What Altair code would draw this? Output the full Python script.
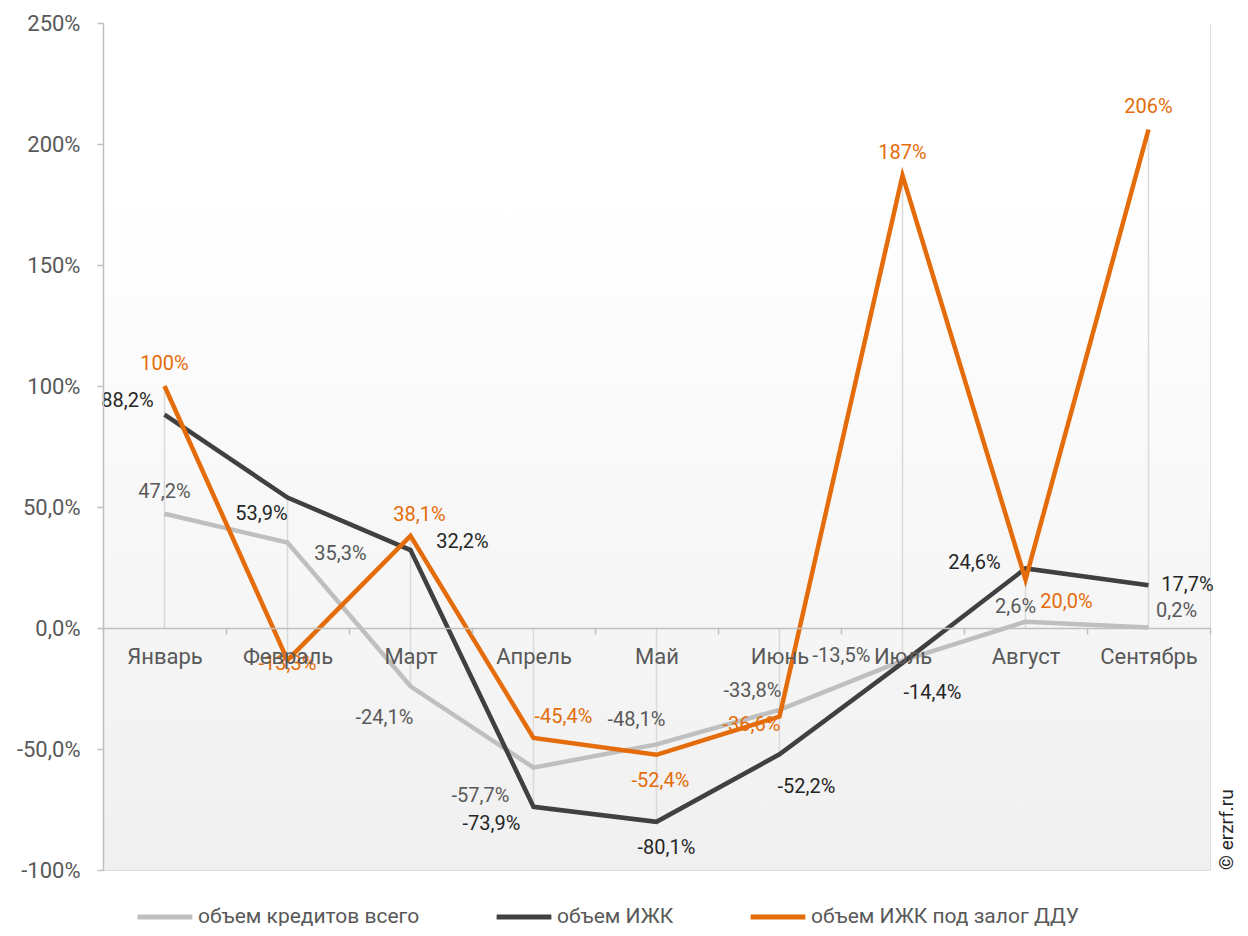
import altair as alt
import pandas as pd

# ---------------- data ----------------
months = ["Январь", "Февраль", "Март", "Апрель", "Май", "Июнь", "Июль", "Август", "Сентябрь"]
series_names = ["объем кредитов всего", "объем ИЖК", "объем ИЖК под залог ДДУ"]
total_vals = [47.2, 35.3, -24.1, -57.7, -48.1, -33.8, -13.5, 2.6, 0.2]
izhk_vals = [88.2, 53.9, 32.2, -73.9, -80.1, -52.2, -14.4, 24.6, 17.7]
ddu_vals = [100, -13.3, 38.1, -45.4, -52.4, -36.6, 187, 20.0, 206]
y_tick_values = [-100, -50, 0, 50, 100, 150, 200, 250]
y_domain = [-100, 250]

# ---------------- styles ----------------
series_colors = ["#bfbfbf", "#404040", "#e46c0a"]
label_colors = ["#595959", "#262626", "#e46c0a"]
# label offsets (pixels) relative to each point
total_dx = [0, 53, -26, -53, -20, -27, -61, -10, 28]
total_dy = [-22, 11, 32, 28, -24, -19, -5, -15, -17]
izhk_dx = [-37, -26, 52, -42, 10, 27, 30, -51, 39]
izhk_dy = [-14, 16, -8, 17, 26, 33, 30, -5, 0]
ddu_dx = [0, 0, 9, 30, 4, -28, 0, 41, 0]
ddu_dy = [-22, 4, -21, -21, 26, 8, -22, 22, -22]

W, H = 1107, 847
FONT = "Roboto"


def fmt(v):
    if abs(v) >= 100:
        return f"{v:.0f}%"
    return f"{v:.1f}%".replace(".", ",")


rows = []
for s, vals, dxs, dys, lc in zip(
    series_names,
    [total_vals, izhk_vals, ddu_vals],
    [total_dx, izhk_dx, ddu_dx],
    [total_dy, izhk_dy, ddu_dy],
    label_colors,
):
    for m, v, dx, dy in zip(months, vals, dxs, dys):
        rows.append({"month": m, "series": s, "value": v, "label": fmt(v),
                     "dx": dx, "dy": dy, "tcolor": lc})
df = pd.DataFrame(rows)

drop = df.groupby("month", sort=False)["value"].agg(["min", "max"]).reset_index()
drop["lo"] = drop["min"].clip(upper=0)
drop["hi"] = drop["max"].clip(lower=0)

zero_offset = -(H * (0 - y_domain[0]) / (y_domain[1] - y_domain[0]))

x_scale = alt.Scale(type="band", paddingInner=0, paddingOuter=0)

x_enc = alt.X(
    "month:N", sort=months, scale=x_scale, bandPosition=0.5,
    axis=alt.Axis(
        title=None, orient="bottom", offset=zero_offset, grid=False, zindex=1,
        domainColor="#bfbfbf", domainWidth=1.5, tickColor="#bfbfbf", tickWidth=1.5,
        tickSize=6, tickBand="extent",
        labelPadding=12, labelFontSize=22, labelColor="#595959", labelAngle=0,
        labelAlign="center", labelBaseline="top",
        labelFont=FONT, labelOverlap=False,
    ),
)
x_plain = alt.X("month:N", sort=months, scale=x_scale, bandPosition=0.5)

y_enc = alt.Y(
    "value:Q",
    scale=alt.Scale(domain=y_domain, nice=False, zero=False),
    axis=alt.Axis(
        values=y_tick_values, title=None, grid=False, zindex=1,
        domainColor="#bfbfbf", domainWidth=1.5, tickColor="#bfbfbf", tickWidth=1.5,
        tickSize=6, labelPadding=17, labelFontSize=22, labelColor="#595959",
        labelFont=FONT,
        labelExpr="abs(datum.value) >= 100 ? replace(format(datum.value, 'd'), '\u2212', '-') + '%' : "
                  "replace(replace(format(datum.value, '.1f'), '.', ','), '\u2212', '-') + '%'",
    ),
)

background = alt.Chart(alt.Data(values=[{"a": 1}])).mark_rect(
    fill=alt.LinearGradient(
        gradient="linear", x1=0, x2=0, y1=0, y2=1,
        stops=[alt.GradientStop(color="#ffffff", offset=0),
               alt.GradientStop(color="#ffffff", offset=0.2),
               alt.GradientStop(color="#f0f0f0", offset=1)],
    )
).encode(x=alt.value(0), x2=alt.value(W), y=alt.value(0), y2=alt.value(H))

drops = alt.Chart(drop).mark_rule(color="#d9d9d9", strokeWidth=1.5).encode(
    x=x_plain, y="lo:Q", y2="hi:Q"
)

lines = alt.Chart(df).mark_line(strokeWidth=4.5, strokeJoin="miter").encode(
    x=x_enc, y=y_enc,
    color=alt.Color(
        "series:N",
        scale=alt.Scale(domain=series_names, range=series_colors),
        legend=alt.Legend(
            title=None, orient="none", direction="horizontal",
            legendX=32, legendY=864,
            symbolType="stroke", symbolStrokeWidth=5, symbolSize=3000,
            labelFontSize=21, labelColor="#595959", labelFont=FONT, labelLimit=500,
            columnPadding=66, labelOffset=3,
        ),
    ),
)

labels = alt.Chart(df).mark_text(
    fontSize=20, font=FONT, dx=alt.expr("datum.dx"), dy=alt.expr("datum.dy")
).encode(
    x=x_plain, y="value:Q", text="label:N",
    color=alt.Color("tcolor:N", scale=None),
)

copyright_text = alt.Chart(alt.Data(values=[{"t": "© erzrf.ru"}])).mark_text(
    angle=270, fontSize=19, font=FONT, color="#262626", align="left", baseline="middle"
).encode(x=alt.value(W + 17), y=alt.value(H), text="t:N")

chart = alt.layer(background, drops, lines, labels, copyright_text).properties(
    width=W, height=H,
    autosize=alt.AutoSizeParams(type="none"),
    padding={"left": 95, "top": 15, "right": 30, "bottom": 56},
).configure_view(stroke=None).configure(font=FONT)

chart.save("out.html", embed_options={"renderer": "svg", "actions": False})
